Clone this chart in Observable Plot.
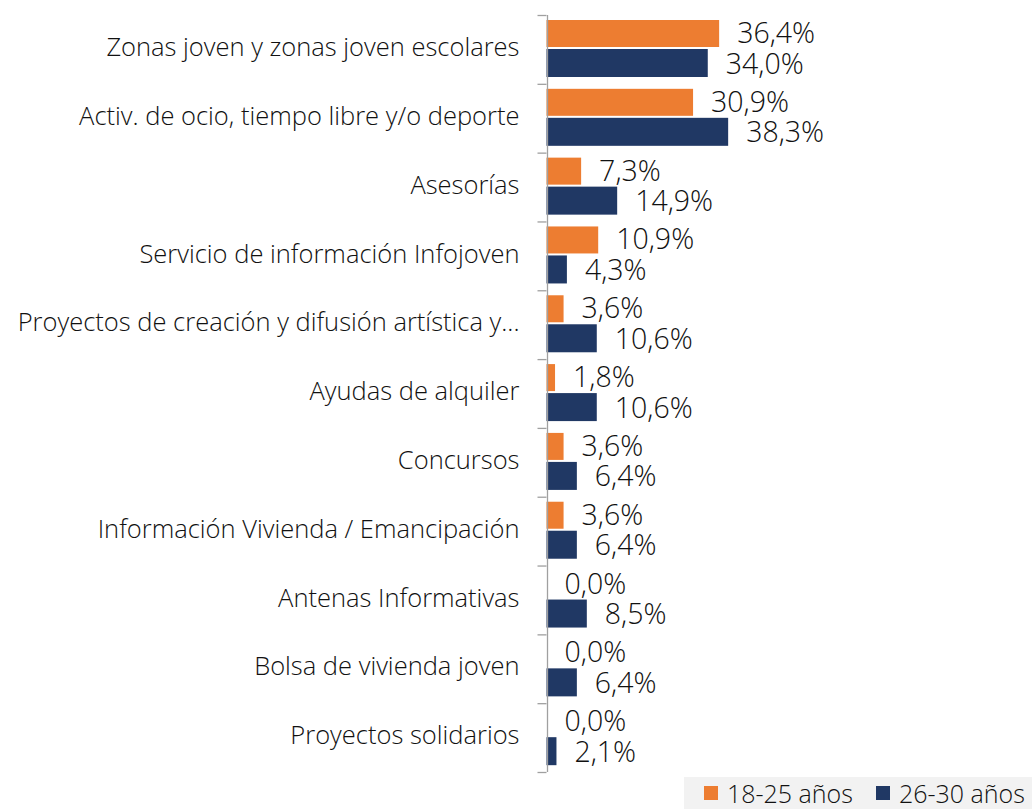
<!DOCTYPE html>
<html><head><meta charset="utf-8">
<script src="https://cdn.jsdelivr.net/npm/d3@7"></script>
<script src="https://cdn.jsdelivr.net/npm/@observablehq/plot@0.6"></script>
<style>
body{margin:0;background:#fff;font-family:"Open Sans",sans-serif;}
#chart{position:relative;width:1032px;height:778px;}
#chart svg{display:block;}
#legend{position:absolute;left:684px;top:777px;width:348px;height:32px;background:#f2f2f2;display:flex;align-items:center;font-size:25px;font-weight:300;color:#111;white-space:nowrap;overflow:hidden;}
.sw{display:inline-block;width:14px;height:14px;margin-right:9px;}
.item{display:flex;align-items:center;}
</style></head><body>
<div id="chart"></div>
<div id="legend"></div>
<script>
const categories = [
  "Zonas joven y zonas joven escolares",
  "Activ. de ocio, tiempo libre y/o deporte",
  "Asesorías",
  "Servicio de información Infojoven",
  "Proyectos de creación y difusión artística y...",
  "Ayudas de alquiler",
  "Concursos",
  "Información Vivienda / Emancipación",
  "Antenas Informativas",
  "Bolsa de vivienda joven",
  "Proyectos solidarios"
];
const seriesNames = ["18-25 años", "26-30 años"];
const values1825 = [36.4, 30.9, 7.3, 10.9, 3.6, 1.8, 3.6, 3.6, 0.0, 0.0, 0.0];
const values2630 = [34.0, 38.3, 14.9, 4.3, 10.6, 10.6, 6.4, 6.4, 8.5, 6.4, 2.1];
const colors = ["#ED7D31", "#203864"];

const rowsA = categories.map((c, i) => ({category: c, value: values1825[i], series: seriesNames[0]}));
const rowsB = categories.map((c, i) => ({category: c, value: values2630[i], series: seriesNames[1]}));

const W = 1032, H = 778, mTop = 15, mBottom = 6;
const step = (H - mTop - mBottom) / categories.length;
const x0 = 546.5, pxPer = 4.743;
const fmt = v => v.toFixed(1).replace(".", ",") + "%";

const chart = Plot.plot({
  width: W,
  height: H,
  marginTop: mTop,
  marginBottom: mBottom,
  marginLeft: x0,
  marginRight: 0,
  style: {fontFamily: "Open Sans", fontWeight: 300, color: "#111", background: "#fff"},
  x: {domain: [0, 40], range: [x0, x0 + 40 * pxPer], axis: null},
  y: {domain: categories, padding: 0, round: false, axis: null},
  marks: [
    Plot.barX(rowsA, {x: "value", y: "category", fill: colors[0], insetTop: 5, insetBottom: step - 32}),
    Plot.barX(rowsB, {x: "value", y: "category", fill: colors[1], insetTop: 34, insetBottom: step - 62}),
    Plot.ruleX([0], {stroke: "#a0a0a0", strokeWidth: 1.3, dx: 0.5}),
    Plot.ruleY(categories, {y: d => d, dy: -step / 2, x1: -9 / pxPer, x2: 0, stroke: "#a0a0a0", strokeWidth: 1.3}),
    Plot.ruleY(categories.slice(-1), {y: d => d, dy: step / 2, x1: -9 / pxPer, x2: 0, stroke: "#a0a0a0", strokeWidth: 1.3}),
    Plot.text(rowsA, {x: "value", y: "category", text: d => fmt(d.value), textAnchor: "start", dx: 17.5, dy: -16, fontSize: 28.5, fill: "#111"}),
    Plot.text(rowsB, {x: "value", y: "category", text: d => fmt(d.value), textAnchor: "start", dx: 17.5, dy: 14.5, fontSize: 28.5, fill: "#111"}),
    Plot.axisY({anchor: "left", tickSize: 0, tickPadding: 27.5, fontSize: 25.5, dy: -2, fill: "#111", label: null})
  ]
});
document.getElementById("chart").appendChild(chart);

const legend = document.getElementById("legend");
seriesNames.forEach((s, i) => {
  const item = document.createElement("div");
  item.className = "item";
  item.style.marginLeft = i === 0 ? "20px" : "23px";
  const sw = document.createElement("span");
  sw.className = "sw";
  sw.style.background = colors[i];
  item.appendChild(sw);
  item.appendChild(document.createTextNode(s));
  legend.appendChild(item);
});
</script>
</body></html>
